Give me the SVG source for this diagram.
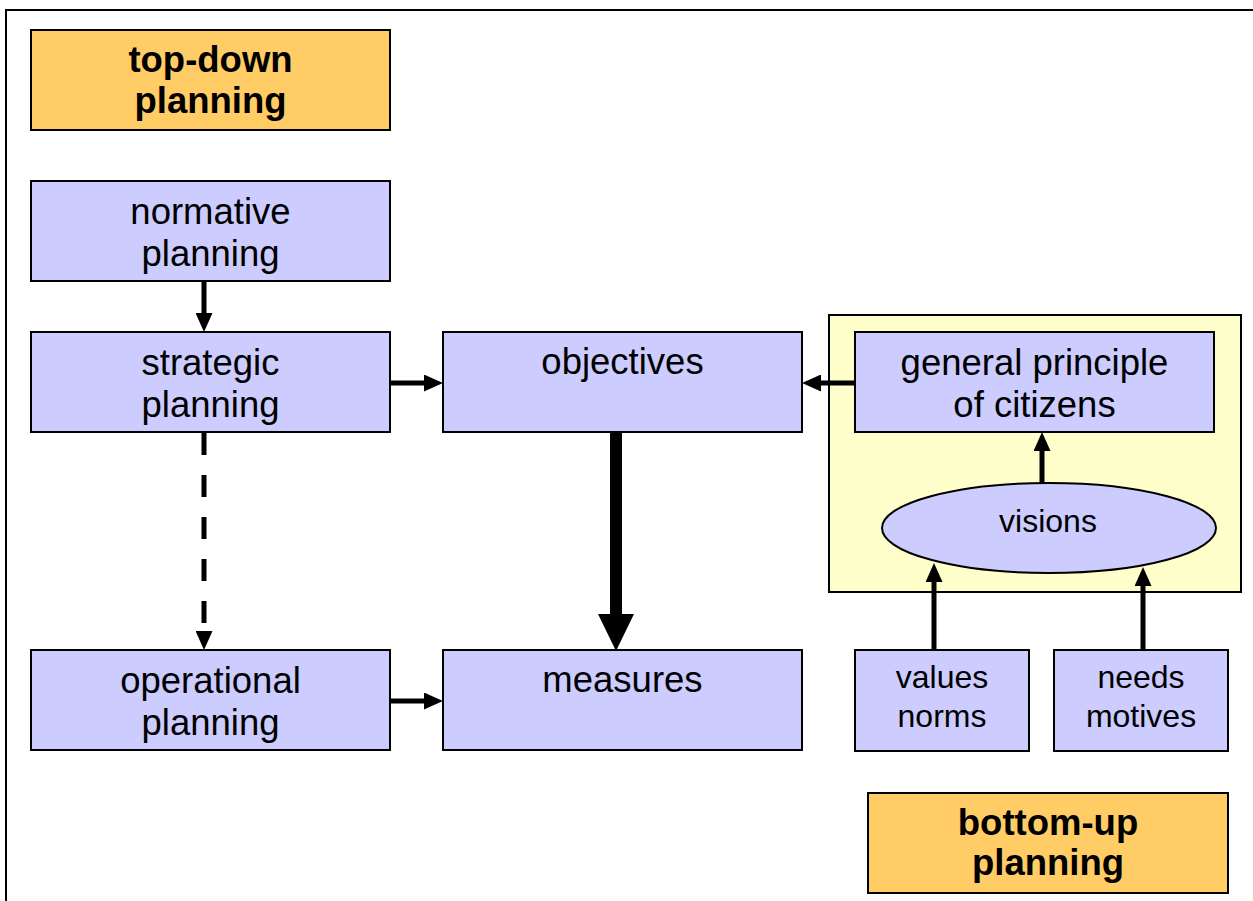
<svg xmlns="http://www.w3.org/2000/svg" width="1253" height="901" viewBox="0 0 1253 901">
<style>
.box{fill:#CCCCFF;stroke:#000;stroke-width:2}
.hdr{fill:#FFCC66;stroke:#000;stroke-width:2}
.grp{fill:#FFFFCC;stroke:#000;stroke-width:2}
text{font-family:"Liberation Sans",Arial,sans-serif;fill:#000;text-anchor:middle}
.t{font-size:36.5px}
.s{font-size:32px}
.b{font-size:36.5px;font-weight:bold}
.c{fill:none;stroke:#000;stroke-width:5}
.thick{fill:none;stroke:#000;stroke-width:12}
</style>
<defs>
<marker id="ah" markerUnits="userSpaceOnUse" markerWidth="19" markerHeight="17" refX="1" refY="8.5" orient="auto">
<path d="M0,0 L19,8.5 L0,17 z" fill="#000"/>
</marker>
<marker id="ahBig" markerUnits="userSpaceOnUse" markerWidth="37" markerHeight="36" refX="1" refY="18" orient="auto">
<path d="M0,0 L37,18 L0,36 z" fill="#000"/>
</marker>
</defs>
<rect x="6" y="10" width="1270" height="900" fill="#fff" stroke="#000" stroke-width="2"/>

<g id="group-bottomup-area">
<rect class="grp" x="829" y="315" width="412" height="277"/>
</g>

<g id="connectors">
<line class="c" x1="204" y1="281" x2="204" y2="314" marker-end="url(#ah)"/>
<line class="c" x1="390" y1="383" x2="425" y2="383" marker-end="url(#ah)"/>
<line class="c" x1="855" y1="383" x2="820" y2="383" marker-end="url(#ah)"/>
<line class="c" x1="204" y1="433" x2="204" y2="632" stroke-dasharray="22 20" marker-end="url(#ah)"/>
<line class="thick" x1="616" y1="432" x2="616" y2="615" marker-end="url(#ahBig)"/>
<line class="c" x1="390" y1="701" x2="425" y2="701" marker-end="url(#ah)"/>
<line class="c" x1="1042" y1="483" x2="1042" y2="450" marker-end="url(#ah)"/>
<line class="c" x1="934" y1="650" x2="934" y2="581" marker-end="url(#ah)"/>
<line class="c" x1="1143" y1="650" x2="1143" y2="585" marker-end="url(#ah)"/>
</g>

<g id="top-down">
<rect class="hdr" x="31" y="30" width="359" height="100"/>
<text class="b" x="210.5" y="72">top-down</text>
<text class="b" x="210.5" y="113">planning</text>
</g>
<g id="normative">
<rect class="box" x="31" y="181" width="359" height="100"/>
<text class="t" x="210.5" y="224">normative</text>
<text class="t" x="210.5" y="266">planning</text>
</g>
<g id="strategic">
<rect class="box" x="31" y="332" width="359" height="100"/>
<text class="t" x="210.5" y="375">strategic</text>
<text class="t" x="210.5" y="417">planning</text>
</g>
<g id="operational">
<rect class="box" x="31" y="650" width="359" height="100"/>
<text class="t" x="210.5" y="693">operational</text>
<text class="t" x="210.5" y="735">planning</text>
</g>
<g id="objectives">
<rect class="box" x="443" y="332" width="359" height="100"/>
<text class="t" x="622.5" y="374">objectives</text>
</g>
<g id="measures">
<rect class="box" x="443" y="650" width="359" height="100"/>
<text class="t" x="622.5" y="692">measures</text>
</g>
<g id="general-principle">
<rect class="box" x="855" y="332" width="359" height="100"/>
<text class="t" x="1034.5" y="375">general principle</text>
<text class="t" x="1034.5" y="417">of citizens</text>
</g>
<g id="visions">
<ellipse class="box" cx="1049" cy="528" rx="167" ry="45"/>
<text class="s" x="1048" y="532">visions</text>
</g>
<g id="values-norms">
<rect class="box" x="855" y="650" width="174" height="101"/>
<text class="s" x="942" y="688">values</text>
<text class="s" x="942" y="727">norms</text>
</g>
<g id="needs-motives">
<rect class="box" x="1054" y="650" width="174" height="101"/>
<text class="s" x="1141" y="688">needs</text>
<text class="s" x="1141" y="727">motives</text>
</g>
<g id="bottom-up">
<rect class="hdr" x="868" y="793" width="360" height="100"/>
<text class="b" x="1048" y="835">bottom-up</text>
<text class="b" x="1048" y="875">planning</text>
</g>
</svg>
